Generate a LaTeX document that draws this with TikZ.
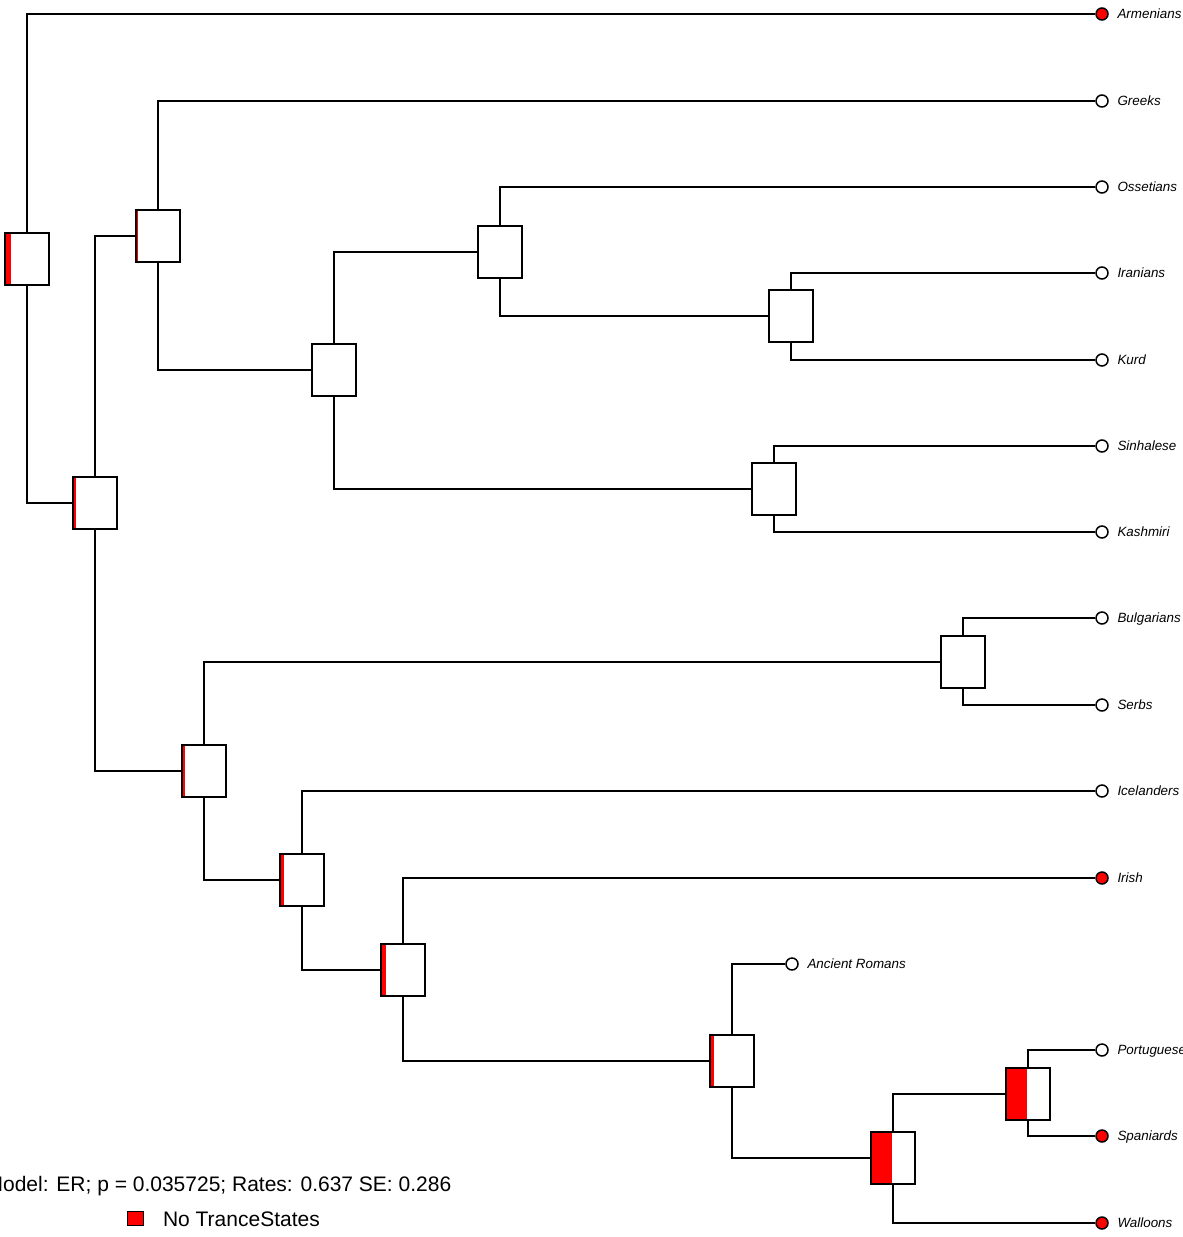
\documentclass[tikz,border=0pt]{standalone}
\usepackage{fontspec}
\setmainfont{Liberation Sans}
\usetikzlibrary{positioning}

\tikzset{
  anc/.style={draw, fill=white, minimum width=44pt, minimum height=52pt, inner sep=0pt,
    path picture={\fill[red] (path picture bounding box.south west) rectangle ([xshift=#1pt]path picture bounding box.north west);}},
  anc/.default=0,
  tip/.style={circle, draw, fill=#1, minimum size=12pt, inner sep=0pt},
  tip/.default=white,
  taxon/.style={inner sep=0pt, font=\fontsize{13.4}{15}\selectfont\itshape, text height=9.5pt, text depth=0pt},
  legtext/.style={inner sep=0pt, font=\fontsize{21}{24}\selectfont, text height=15pt, text depth=0pt},
}

\begin{document}
\begin{tikzpicture}[x=1pt, y=-1pt, line width=1.5pt]
    \useasboundingbox (0,0) rectangle (1183,1237);
    \clip (0,0) rectangle (1183,1237);

    % Ancestral states
    \node[anc=6.3] (root) at (27,259) {};
    \node[anc=3] (n1) at (95,503) {};
    \node[anc=2] (n2) at (158,236) {};
    \node[anc=0.3] (n3) at (334,370) {};
    \node[anc=0.6] (n4) at (500,252) {};
    \node[anc] (n5) at (791,316) {};
    \node[anc] (n6) at (774,489) {};
    \node[anc=3.3] (n7) at (204,771) {};
    \node[anc] (n8) at (963,662) {};
    \node[anc=4.3] (n9) at (302,880) {};
    \node[anc=5.3] (n10) at (403,970) {};
    \node[anc=3.5] (n11) at (732,1061) {};
    \node[anc=20.5] (n12) at (893,1158) {};
    \node[anc=20.5] (n13) at (1028,1094) {};

    % Tips
    \node[tip=red] (armenians) at (1102,14) {};
    \node[tip] (greeks) at (1102,101) {};
    \node[tip] (ossetians) at (1102,187) {};
    \node[tip] (iranians) at (1102,273) {};
    \node[tip] (kurd) at (1102,360) {};
    \node[tip] (sinhalese) at (1102,446) {};
    \node[tip] (kashmiri) at (1102,532) {};
    \node[tip] (bulgarians) at (1102,618) {};
    \node[tip] (serbs) at (1102,705) {};
    \node[tip] (icelanders) at (1102,791) {};
    \node[tip=red] (irish) at (1102,878) {};
    \node[tip] (romans) at (792,964) {};
    \node[tip] (portuguese) at (1102,1050) {};
    \node[tip=red] (spaniards) at (1102,1136) {};
    \node[tip=red] (walloons) at (1102,1223) {};

    % Tip labels
    \node[taxon, right=8pt of armenians] (armenians-lab) {Armenians};
    \node[taxon, right=8pt of greeks] (greeks-lab) {Greeks};
    \node[taxon, right=8pt of ossetians] (ossetians-lab) {Ossetians};
    \node[taxon, right=8pt of iranians] (iranians-lab) {Iranians};
    \node[taxon, right=8pt of kurd] (kurd-lab) {Kurd};
    \node[taxon, right=8pt of sinhalese] (sinhalese-lab) {Sinhalese};
    \node[taxon, right=8pt of kashmiri] (kashmiri-lab) {Kashmiri};
    \node[taxon, right=8pt of bulgarians] (bulgarians-lab) {Bulgarians};
    \node[taxon, right=8pt of serbs] (serbs-lab) {Serbs};
    \node[taxon, right=8pt of icelanders] (icelanders-lab) {Icelanders};
    \node[taxon, right=8pt of irish] (irish-lab) {Irish};
    \node[taxon, right=8pt of romans] (romans-lab) {Ancient Romans};
    \node[taxon, right=8pt of portuguese] (portuguese-lab) {Portuguese};
    \node[taxon, right=8pt of spaniards] (spaniards-lab) {Spaniards};
    \node[taxon, right=8pt of walloons] (walloons-lab) {Walloons};

    % Branches
    \draw (root) |- (armenians);
    \draw (root) |- (n1);
    \draw (n1) |- (n2);
    \draw (n1) |- (n7);
    \draw (n2) |- (greeks);
    \draw (n2) |- (n3);
    \draw (n3) |- (n4);
    \draw (n3) |- (n6);
    \draw (n4) |- (ossetians);
    \draw (n4) |- (n5);
    \draw (n5) |- (iranians);
    \draw (n5) |- (kurd);
    \draw (n6) |- (sinhalese);
    \draw (n6) |- (kashmiri);
    \draw (n7) |- (n8);
    \draw (n7) |- (n9);
    \draw (n8) |- (bulgarians);
    \draw (n8) |- (serbs);
    \draw (n9) |- (icelanders);
    \draw (n9) |- (n10);
    \draw (n10) |- (irish);
    \draw (n10) |- (n11);
    \draw (n11) |- (romans);
    \draw (n11) |- (n12);
    \draw (n12) |- (n13);
    \draw (n12) |- (walloons);
    \draw (n13) |- (portuguese);
    \draw (n13) |- (spaniards);

    % Legend
    \node[legtext, anchor=east] (model) at (452,1184) {Model: ER; p = 0.035725; Rates: 0.637 SE: 0.286};
    \node[draw, fill=red, minimum width=16pt, minimum height=14pt, inner sep=0pt] (key) at (135.5,1218.5) {};
    \node[legtext, right=18pt of key] (key-lab) {No TranceStates};
\end{tikzpicture}
\end{document}
